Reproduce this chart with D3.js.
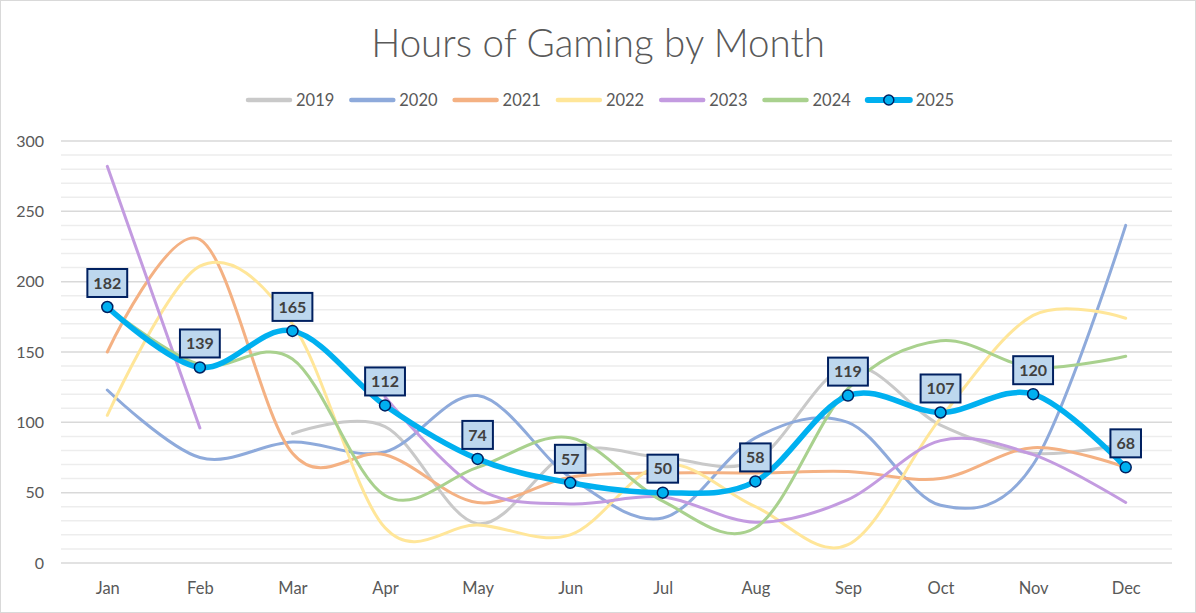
<!DOCTYPE html>
<html><head><meta charset="utf-8">
<script src="https://cdn.jsdelivr.net/npm/d3@7"></script>
<style>
html,body{margin:0;padding:0;background:#fff;}
text{font-family:Lato,"Liberation Sans",sans-serif;}
</style></head>
<body>
<svg id="chart" width="1196" height="613"></svg>
<script>
const months = ["Jan","Feb","Mar","Apr","May","Jun","Jul","Aug","Sep","Oct","Nov","Dec"];
const years = ["2019","2020","2021","2022","2023","2024","2025"];
const s2019 = [null,null,92,97,28,79,75,73,140,98,78,85];
const s2020 = [123,75,86,79,119,61,32,89,100,41,70,240];
const s2021 = [150,230,78,77,43,61,64,64,65,60,82,68];
const s2022 = [105,211,170,25,27,20,70,40,13,103,176,174];
const s2023 = [282,96,null,118,53,42,47,29,45,87,77,43];
const s2024 = [182,141,145,48,68,89,44,25,124,158,139,147];
const s2025 = [182,139,165,112,74,57,50,58,119,107,120,68];
const yTicks = [0,50,100,150,200,250,300];
const colors = ["#c9c9c9","#8eaadb","#f4b183","#ffe699","#c39be0","#a9d18e","#00b0f0"];
const seriesList = [s2019,s2020,s2021,s2022,s2023,s2024,s2025];

const svg = d3.select("#chart");
const W = 1196, H = 613;
svg.append("rect").attr("x",0.5).attr("y",0.5).attr("width",W-1).attr("height",H-1)
  .attr("fill","#fff").attr("stroke","#d9d9d9");

const x = d3.scalePoint().domain(months).range([61,1172]).padding(0.5);
const y = d3.scaleLinear().domain([0,300]).range([563,141]);

// minor gridlines
const minor = d3.range(0,301,10).filter(v=>v%50!==0);
svg.append("g").selectAll("line").data(minor).join("line")
  .attr("x1",61).attr("x2",1172).attr("y1",d=>y(d)).attr("y2",d=>y(d))
  .attr("stroke","#ededed").attr("stroke-width",1.5);
// major gridlines
svg.append("g").selectAll("line").data(yTicks).join("line")
  .attr("x1",61).attr("x2",1172).attr("y1",d=>y(d)).attr("y2",d=>y(d))
  .attr("stroke","#d9d9d9").attr("stroke-width",1.5);

// y axis labels
const yAxis = d3.axisLeft(y).tickValues(yTicks).tickSize(0).tickPadding(0);
const gy = svg.append("g").attr("transform","translate(44,0)").call(yAxis);
gy.select(".domain").remove();
gy.selectAll("text").attr("font-size",16).attr("fill","#595959").attr("font-family","Lato,'Liberation Sans',sans-serif");

// x axis labels
const xAxis = d3.axisBottom(x).tickSize(0).tickPadding(0);
const gx = svg.append("g").attr("transform","translate(0,582)").call(xAxis);
gx.select(".domain").remove();
gx.selectAll("text").attr("font-size",16.5).attr("fill","#595959").attr("font-family","Lato,'Liberation Sans',sans-serif");

// title
svg.append("text").attr("x",598).attr("y",57).attr("text-anchor","middle")
  .attr("font-size",38.5).attr("font-weight",300).attr("fill","#595959")
  .text("Hours of Gaming by Month");

// lines
const line = d3.line()
  .defined(d=>d.v!==null)
  .x(d=>x(d.m)).y(d=>y(d.v))
  .curve(d3.curveCardinal.tension(0));

seriesList.forEach((s,i)=>{
  const data = months.map((m,j)=>({m, v:s[j]}));
  svg.append("path").datum(data)
    .attr("d",line)
    .attr("fill","none")
    .attr("stroke",colors[i])
    .attr("stroke-width", i===6 ? 5.5 : 3)
    .attr("stroke-linecap","round")
    .attr("stroke-linejoin","round");
});

// markers for 2025
const d25 = months.map((m,j)=>({m, v:s2025[j]}));
svg.append("g").selectAll("circle").data(d25).join("circle")
  .attr("cx",d=>x(d.m)).attr("cy",d=>y(d.v)).attr("r",5.5)
  .attr("fill","#00b0f0").attr("stroke","#002060").attr("stroke-width",1.5);

// data labels
const lg = svg.append("g");
d25.forEach(d=>{
  const g = lg.append("g").attr("transform",`translate(${x(d.m)},${y(d.v)-24})`);
  const r = g.append("rect");
  const t = g.append("text").attr("text-anchor","middle").attr("dy","0.36em")
    .attr("font-size",16).attr("font-weight","bold").attr("fill","#404040").text(d.v);
  const w = t.node().getComputedTextLength()+12;
  r.attr("x",-w/2).attr("y",-14).attr("width",w).attr("height",28)
    .attr("fill","#bdd7ee").attr("stroke","#002060").attr("stroke-width",2);
});

// legend
const legend = svg.append("g");
years.forEach((yr,i)=>{
  const lx = 248 + i*103.3;
  const g = legend.append("g").attr("transform",`translate(${lx},100)`);
  g.append("line").attr("x1",0).attr("x2",42).attr("y1",0).attr("y2",0)
    .attr("stroke",colors[i]).attr("stroke-width", i===6?6:4.5).attr("stroke-linecap","round");
  if(i===6){
    g.append("circle").attr("cx",21).attr("cy",0).attr("r",5)
      .attr("fill","#00b0f0").attr("stroke","#002060").attr("stroke-width",1.5);
  }
  g.append("text").attr("x",48).attr("y",0).attr("dy","0.35em")
    .attr("font-size",16.5).attr("fill","#595959").text(yr);
});
</script>
</body></html>
